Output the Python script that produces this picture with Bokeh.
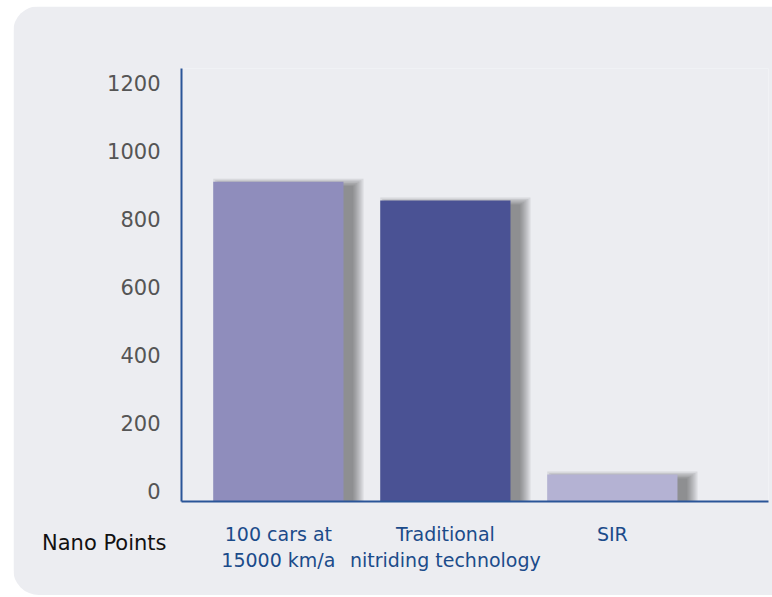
import numpy as np
from bokeh.plotting import figure
from bokeh.layouts import column
from bokeh.models import Range1d, FixedTicker, Div
from bokeh.embed import file_html
from bokeh.resources import INLINE

categories = ["100 cars at\n15000 km/a", "Traditional\nnitriding technology", "SIR"]
values = [910, 855, 50]
colors = ["#8F8DBC", "#4A5294", "#B4B2D3"]
y_ticks = [0, 200, 400, 600, 800, 1000, 1200]
row_label = "Nano Points"

FONT = "DejaVu Sans"
AXIS_BLUE = "#2A5598"
BG = "#ECEDF1"

x_start, x_end = -0.08, 3.435
y_start, y_end = -29.4, 1243

W, H = 759, 589
ml, mr, mt, mb = 168, 4, 62, 94

p = figure(width=W, height=H, output_backend="svg", toolbar_location=None,
           x_range=Range1d(x_start, x_end), y_range=Range1d(y_start, y_end),
           min_border_left=ml, min_border_right=mr, min_border_top=mt, min_border_bottom=mb)
p.styles = {"border-radius": "26px 0 0 26px", "overflow": "hidden",
            "margin-left": "13px", "margin-top": "6px"}

p.background_fill_color = BG
p.border_fill_color = BG
p.outline_line_color = None
p.xgrid.visible = False
p.ygrid.visible = False

xs = np.arange(len(categories)) + 0.5
bar_w = 0.78

# pixel-to-data factors (for shadow styling)
ux = (x_end - x_start) / (W - ml - mr)
uy = (y_end - y_start) / (H - mt - mb)

# soft drop shadow layers
dx, dy = 10, 4
for s in [10, 8, 6, 4, 2, 0]:
    left = xs - bar_w / 2 + (dx - s) * ux
    right = xs + bar_w / 2 + (dx + s) * ux
    top = np.array(values) - (dy - s * 0.7) * uy
    bottom = np.full(len(values), y_start)
    p.quad(left=left, right=right, top=top, bottom=bottom,
           fill_color="#222222", fill_alpha=0.095, line_color=None)

p.vbar(x=xs, width=bar_w, top=values, bottom=y_start, fill_color=colors, line_color=None)

# y axis
p.yaxis.ticker = FixedTicker(ticks=y_ticks)
p.yaxis.axis_line_color = AXIS_BLUE
p.yaxis.axis_line_width = 2
p.yaxis.major_tick_line_color = None
p.yaxis.minor_tick_line_color = None
p.yaxis.major_label_text_font = FONT
p.yaxis.major_label_text_font_size = "21px"
p.yaxis.major_label_text_color = "#555555"
p.yaxis.major_label_standoff = 15

# x axis
p.xaxis.ticker = FixedTicker(ticks=list(xs))
p.xaxis.major_label_overrides = {float(x): c for x, c in zip(xs, categories)}
p.xaxis.axis_line_color = AXIS_BLUE
p.xaxis.axis_line_width = 2
p.xaxis.major_tick_line_color = None
p.xaxis.minor_tick_line_color = None
p.xaxis.major_label_text_font = FONT
p.xaxis.major_label_text_font_size = "19px"
p.xaxis.major_label_text_color = "#1B4B8A"
p.xaxis.major_label_standoff = 15

label_div = Div(text=row_label, width=140, height=26,
                styles={"position": "absolute", "left": "37px", "top": "525px",
                        "font-family": FONT, "font-size": "21px", "line-height": "26px",
                        "color": "#111111", "white-space": "nowrap"})

layout = column(p, label_div, styles={"position": "relative"})

open("out.html", "w").write(file_html(layout, INLINE))
